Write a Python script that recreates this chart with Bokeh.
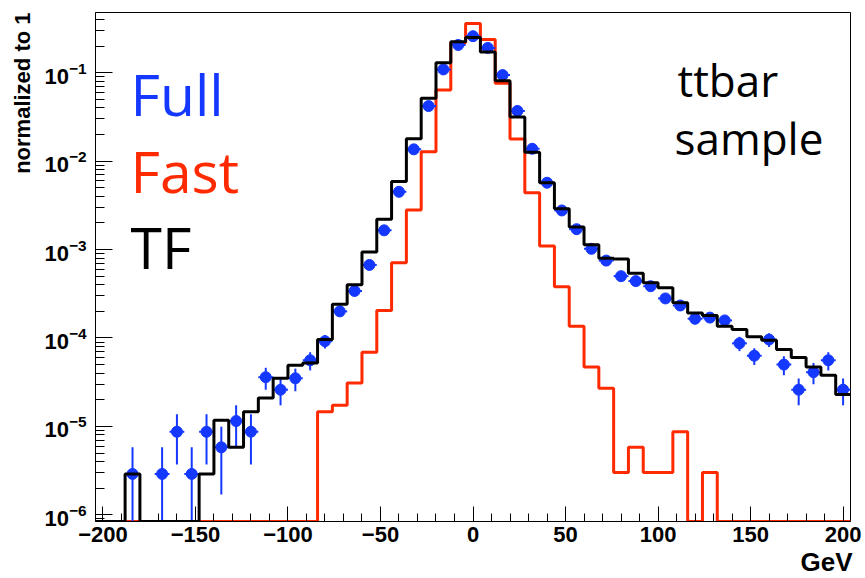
import numpy as np
from bokeh.plotting import figure
from bokeh.models import Range1d, Label, FixedTicker, Title
from bokeh.embed import file_html
from bokeh.resources import INLINE

# ---------------- data ----------------
bin_width = 8
bin_centers = [-200, -192, -184, -176, -168, -160, -152, -144, -136, -128, -120,
               -112, -104, -96, -88, -80, -72, -64, -56, -48, -40, -32, -24, -16,
               -8, 0, 8, 16, 24, 32, 40, 48, 56, 64, 72, 80, 88, 96, 104, 112, 120,
               128, 136, 144, 152, 160, 168, 176, 184, 192, 200]

tf_values = [0, 0, 2.9e-6, 0, 0, 0, 0, 2.9e-6, 1.17e-5, 5.8e-6, 1.46e-5, 2.09e-5,
             3.5e-5, 4.9e-5, 5.2e-5, 9.6e-5, 2.4e-4, 4.0e-4, 9.4e-4, 2.2e-3, 5.9e-3,
             0.0179, 0.0514, 0.130, 0.224, 0.251, 0.172, 0.081, 0.0315, 0.0126,
             5.7e-3, 2.9e-3, 1.8e-3, 1.13e-3, 8.0e-4, 7.8e-4, 5.4e-4, 4.2e-4, 3.7e-4,
             2.5e-4, 1.92e-4, 1.8e-4, 1.36e-4, 1.25e-4, 1.03e-4, 9.4e-5, 7.4e-5,
             6.0e-5, 4.7e-5, 3.8e-5, 2.3e-5]

fast_values = [0, 0, 0, 0, 0, 0, 0, 0, 0, 0, 0, 0, 0, 0, 0,
               1.46e-5, 1.73e-5, 3.1e-5, 6.9e-5, 2.04e-4, 7.1e-4, 2.8e-3, 0.0128,
               0.0638, 0.219, 0.361, 0.238, 0.076, 0.0178, 4.4e-3, 1.1e-3, 3.8e-4,
               1.36e-4, 4.7e-5, 2.7e-5, 3.0e-6, 5.8e-6, 3.0e-6, 3.0e-6, 8.7e-6, 0,
               3.0e-6, 0, 0, 0, 0, 0, 0, 0, 0, 0]

full_x = [-184, -168, -160, -152, -144, -136, -128, -120, -112, -104, -96, -88,
          -80, -72, -64, -56, -48, -40, -32, -24, -16, -8, 0, 8, 16, 24, 32, 40,
          48, 56, 64, 72, 80, 88, 96, 104, 112, 120, 128, 136, 144, 152, 160, 168,
          176, 184, 192, 200]
full_y = [2.9e-6, 2.9e-6, 8.7e-6, 2.9e-6, 8.7e-6, 5.8e-6, 1.15e-5, 8.7e-6, 3.6e-5,
          2.6e-5, 3.5e-5, 5.6e-5, 9.2e-5, 2.0e-4, 3.4e-4, 6.7e-4, 1.65e-3, 4.5e-3,
          0.0136, 0.042, 0.109, 0.206, 0.259, 0.191, 0.094, 0.037, 0.0138, 5.7e-3,
          2.77e-3, 1.7e-3, 1.02e-3, 7.5e-4, 5.0e-4, 4.4e-4, 3.85e-4, 2.8e-4, 2.33e-4,
          1.65e-4, 1.7e-4, 1.58e-4, 8.7e-5, 6.3e-5, 9.6e-5, 5.0e-5, 2.6e-5, 4.1e-5,
          5.6e-5, 2.6e-5]
full_err = [2.9e-6, 2.9e-6, 5.0e-6, 2.9e-6, 5.0e-6, 4.1e-6, 5.8e-6, 5.0e-6, 1.0e-5,
            8.7e-6, 1.0e-5, 1.3e-5, 1.6e-5, 2.4e-5, 3.1e-5, 4.4e-5, 7e-5, 1.1e-4,
            2e-4, 3.5e-4, 5.6e-4, 7.7e-4, 8.7e-4, 7.4e-4, 5.2e-4, 3.3e-4, 2e-4,
            1.3e-4, 9e-5, 7e-5, 5.4e-5, 4.7e-5, 3.8e-5, 3.6e-5, 3.3e-5, 2.8e-5,
            2.6e-5, 2.2e-5, 2.2e-5, 2.1e-5, 1.6e-5, 1.35e-5, 1.7e-5, 1.2e-5, 8.7e-6,
            1.1e-5, 1.3e-5, 8.7e-6]

x_major_ticks = [-200, -150, -100, -50, 0, 50, 100, 150, 200]
x_minor_ticks = [-200, -190, -180, -170, -160, -150, -140, -130, -120, -110, -100,
                 -90, -80, -70, -60, -50, -40, -30, -20, -10, 0, 10, 20, 30, 40, 50,
                 60, 70, 80, 90, 100, 110, 120, 130, 140, 150, 160, 170, 180, 190, 200]
y_major_ticks = [1e-6, 1e-5, 1e-4, 1e-3, 1e-2, 1e-1]

y_title = "normalized to 1"
x_title = "GeV"
legend_entries = ["Full", "Fast", "TF"]
sample_lines = ["ttbar", "sample"]

X_MIN, X_MAX = -204, 204
Y_MIN, Y_MAX = 8.4e-7, 0.48

BLUE = "#1438ff"
RED = "#ff2a00"
BLACK = "#000000"

# ---------------- figure ----------------
p = figure(width=865, height=578,
           x_range=Range1d(X_MIN, X_MAX), y_range=Range1d(Y_MIN, Y_MAX),
           y_axis_type="log", output_backend="svg", toolbar_location=None,
           min_border_left=93, min_border_right=15, min_border_top=12,
           min_border_bottom=57)
p.grid.visible = False
p.background_fill_color = "white"
p.border_fill_color = "white"
p.outline_line_color = "black"
p.outline_line_width = 1

xa = p.xaxis[0]
xa.ticker = FixedTicker(ticks=x_major_ticks, minor_ticks=x_minor_ticks)
xa.major_tick_in = 15
xa.major_tick_out = 0
xa.minor_tick_in = 8
xa.minor_tick_out = 0
xa.axis_line_color = "black"
xa.major_tick_line_color = "black"
xa.minor_tick_line_color = "black"
xa.major_label_text_font = "Liberation Sans"
xa.major_label_text_font_style = "bold"
xa.major_label_text_font_size = "22px"
xa.major_label_text_color = "black"
xa.major_label_standoff = 5

y_minor = []
for k in range(-7, 0):
    for m in range(2, 10):
        v = m * 10.0 ** k
        if Y_MIN <= v <= Y_MAX:
            y_minor.append(v)
ya = p.yaxis[0]
ya.ticker = FixedTicker(ticks=y_major_ticks, minor_ticks=y_minor)
ya.major_tick_in = 17
ya.major_tick_out = 0
ya.minor_tick_in = 9
ya.minor_tick_out = 0
ya.axis_line_color = "black"
ya.major_tick_line_color = "black"
ya.minor_tick_line_color = "black"
ya.major_label_text_font = "Liberation Sans"
ya.major_label_text_font_style = "bold"
ya.major_label_text_font_size = "22px"
ya.major_label_text_color = "black"
ya.major_label_standoff = 9

# ---------------- histograms ----------------
centers = np.array(bin_centers, dtype=float)
edges = np.concatenate([centers - bin_width / 2, [centers[-1] + bin_width / 2]])


def step_y(vals):
    v = np.array(vals, dtype=float)
    v = np.where(v > 0, v, Y_MIN)
    return np.concatenate([v, [v[-1]]])


p.step(edges, step_y(fast_values), mode="after", line_color=RED, line_width=3)

fx = np.array(full_x, dtype=float)
fy = np.array(full_y, dtype=float)
fe = np.array(full_err, dtype=float)
lo = np.where(fy - fe > 0, fy - fe, Y_MIN)
hi = fy + fe
p.segment(fx, lo, fx, hi, line_color=BLUE, line_width=2)
p.segment(fx - bin_width / 2, fy, fx + bin_width / 2, fy, line_color=BLUE, line_width=2)
p.scatter(fx, fy, marker="circle", size=11, fill_color=BLUE, line_color=BLUE)

p.step(edges, step_y(tf_values), mode="after", line_color=BLACK, line_width=3)

# ---------------- texts ----------------
p.add_layout(Title(text=y_title, align="right", text_font="Liberation Sans",
                   text_font_style="bold", text_font_size="22px",
                   text_color="black", standoff=14), "left")
p.add_layout(Title(text=x_title, align="right", text_font="Liberation Sans",
                   text_font_style="bold", text_font_size="26px",
                   text_color="black", standoff=0, offset=-2), "below")

legend_colors = [BLUE, RED, BLACK]
legend_baselines = [-81, -158.5, -234.5]
for txt, col, yo in zip(legend_entries, legend_colors, legend_baselines):
    p.add_layout(Label(x=X_MIN, y=Y_MAX, x_offset=35, y_offset=yo, text=txt,
                       text_align="left", text_baseline="alphabetic",
                       text_font="Open Sans", text_font_size="57px",
                       text_color=col))

sample_offsets = [(582, -67), (579, -125)]
for txt, (xo, yo) in zip(sample_lines, sample_offsets):
    p.add_layout(Label(x=X_MIN, y=Y_MAX, x_offset=xo, y_offset=yo, text=txt,
                       text_align="left", text_baseline="alphabetic",
                       text_font="Open Sans", text_font_size="44px",
                       text_color="black"))

open("out.html", "w").write(file_html(p, INLINE))
